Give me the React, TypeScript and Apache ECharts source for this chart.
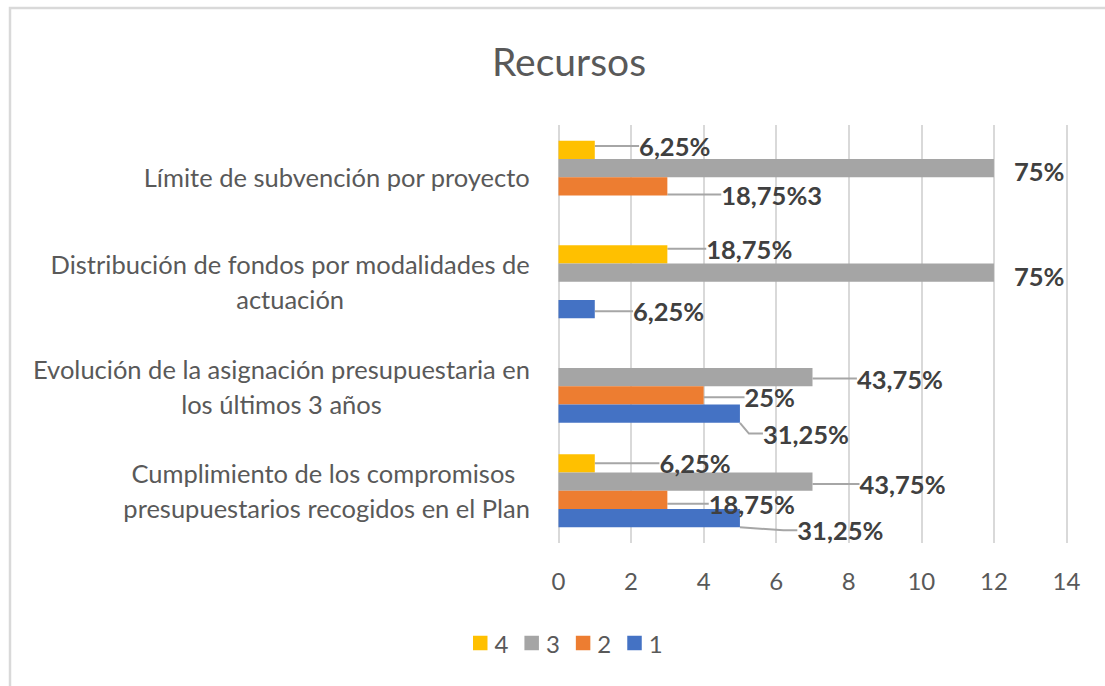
import React, { useEffect, useRef } from 'react';
import * as echarts from 'echarts';

// ---- data ----
const CATEGORIES = [
  'Cumplimiento de los compromisos \npresupuestarios recogidos en el Plan',
  'Evolución de la asignación presupuestaria en\nlos últimos 3 años',
  'Distribución de fondos por modalidades de\nactuación',
  'Límite de subvención por proyecto',
];
const SERIES_NAMES = ['4', '3', '2', '1'];
const VALUES_4: (number | null)[] = [1, null, 3, 1];
const VALUES_3: (number | null)[] = [7, 7, 12, 12];
const VALUES_2: (number | null)[] = [3, 4, null, 3];
const VALUES_1: (number | null)[] = [5, 5, 1, null];
const RESPONDENTS = 16;
const LABEL_SUFFIX_2 = ['', '', '', '3'];
const X_MIN = 0;
const X_MAX = 14;
const X_INTERVAL = 2;
const TITLE = 'Recursos';

// ---- styling ----
const COLORS = ['#FFC000', '#A5A5A5', '#ED7D31', '#4472C4'];
const FONT = 'Lato, "Noto Sans", sans-serif';
const TEXT = '#595959';
const LABEL_TEXT = '#404040';
const GRID = '#D9D9D9';
const LABEL_PAD = 8;

// label offsets [dx, dy, showLeader] per series (4,3,2,1) and category
const LABEL_OFFSETS: [number, number, boolean][][] = [
  [[51.6, 0, true], [0, 0, true], [25.9, -5.5, true], [31.3, -3.8, true]],
  [[34, 2.5, true], [31.4, 1.5, true], [7.1, 2.9, false], [7.1, 3, false]],
  [[28.4, 3.8, true], [27.9, 1.9, true], [0, 0, true], [40.9, 8.2, true]],
  [[44.4, 12, true], [10, 19.9, true], [25.2, 2, true], [0, 0, true]],
];

const fmtPct = (v: number) => {
  const p = (v / RESPONDENTS) * 100;
  return String(Math.round(p * 100) / 100).replace('.', ',') + '%';
};

export default function App() {
  const ref = useRef<HTMLDivElement>(null);
  useEffect(() => {
    if (!ref.current) return;
    const chart = echarts.init(ref.current, undefined, { renderer: 'svg' });
    const allValues = [VALUES_4, VALUES_3, VALUES_2, VALUES_1];
    const series = allValues.map((vals, si) => ({
      name: SERIES_NAMES[si],
      type: 'bar',
      barGap: '0%',
      barCategoryGap: '30%',
      itemStyle: { color: COLORS[si] },
      data: vals.map((v, ci) => ({
        value: v,
        labelLine: { show: LABEL_OFFSETS[si][ci][2] },
      })),
      label: {
        show: true,
        position: 'right',
        distance: 5,
        padding: [0, 0, 0, LABEL_PAD],
        fontFamily: FONT,
        fontSize: 25.5,
        fontWeight: 'bold',
        color: LABEL_TEXT,
        formatter: (p: any) => {
          if (p.value == null) return '';
          const suffix = si === 2 ? LABEL_SUFFIX_2[p.dataIndex] : '';
          return fmtPct(p.value) + suffix;
        },
      },
      labelLine: {
        show: true,
        length2: 14,
        lineStyle: { color: '#A6A6A6', width: 2 },
      },
      labelLayout: (p: any) => {
        const o = LABEL_OFFSETS[si][p.dataIndex];
        return { dx: o[0], dy: o[1] };
      },
    }));

    chart.setOption({
      animation: false,
      backgroundColor: '#FFFFFF',
      title: {
        text: TITLE,
        left: 564,
        textAlign: 'center',
        top: 36,
        textStyle: { fontFamily: FONT, fontSize: 39, fontWeight: 'normal', color: TEXT },
      },
      graphic: [
        {
          type: 'rect',
          shape: { x: 10, y: 8, width: 1200, height: 800 },
          style: { fill: 'none', stroke: '#D9D9D9', lineWidth: 2.5 },
          silent: true,
        },
      ],
      legend: {
        data: SERIES_NAMES,
        left: 468,
        top: 626,
        icon: 'rect',
        itemWidth: 14.5,
        itemHeight: 14.5,
        itemGap: 16,
        textStyle: { fontFamily: FONT, fontSize: 24, color: TEXT, padding: [0, 0, 0, 2] },
      },
      grid: { left: 558.5, right: 38.5, top: 125, bottom: 143 },
      xAxis: {
        type: 'value',
        min: X_MIN,
        max: X_MAX,
        interval: X_INTERVAL,
        axisLine: { show: false },
        axisTick: { show: false },
        splitLine: { show: true, lineStyle: { color: GRID, width: 2 } },
        axisLabel: { fontFamily: FONT, fontSize: 24, color: TEXT, margin: 25 },
      },
      yAxis: {
        type: 'category',
        data: CATEGORIES,
        axisLine: { show: false },
        axisTick: { show: false },
        splitLine: { show: false },
        axisLabel: {
          margin: 28.5,
          fontFamily: FONT,
          fontSize: 25.5,
          color: TEXT,
          lineHeight: 35,
          formatter: (v: string) => v.split('\n').map((l) => `{c|${l}}`).join('\n'),
          rich: {
            c: { align: 'center', fontFamily: FONT, fontSize: 25.5, color: TEXT, lineHeight: 35 },
          },
        },
      },
      series,
    });
    return () => chart.dispose();
  }, []);
  return (
    <div
      ref={ref}
      style={{ position: 'fixed', left: 0, top: 0, width: 1105, height: 686, background: '#fff' }}
    />
  );
}
